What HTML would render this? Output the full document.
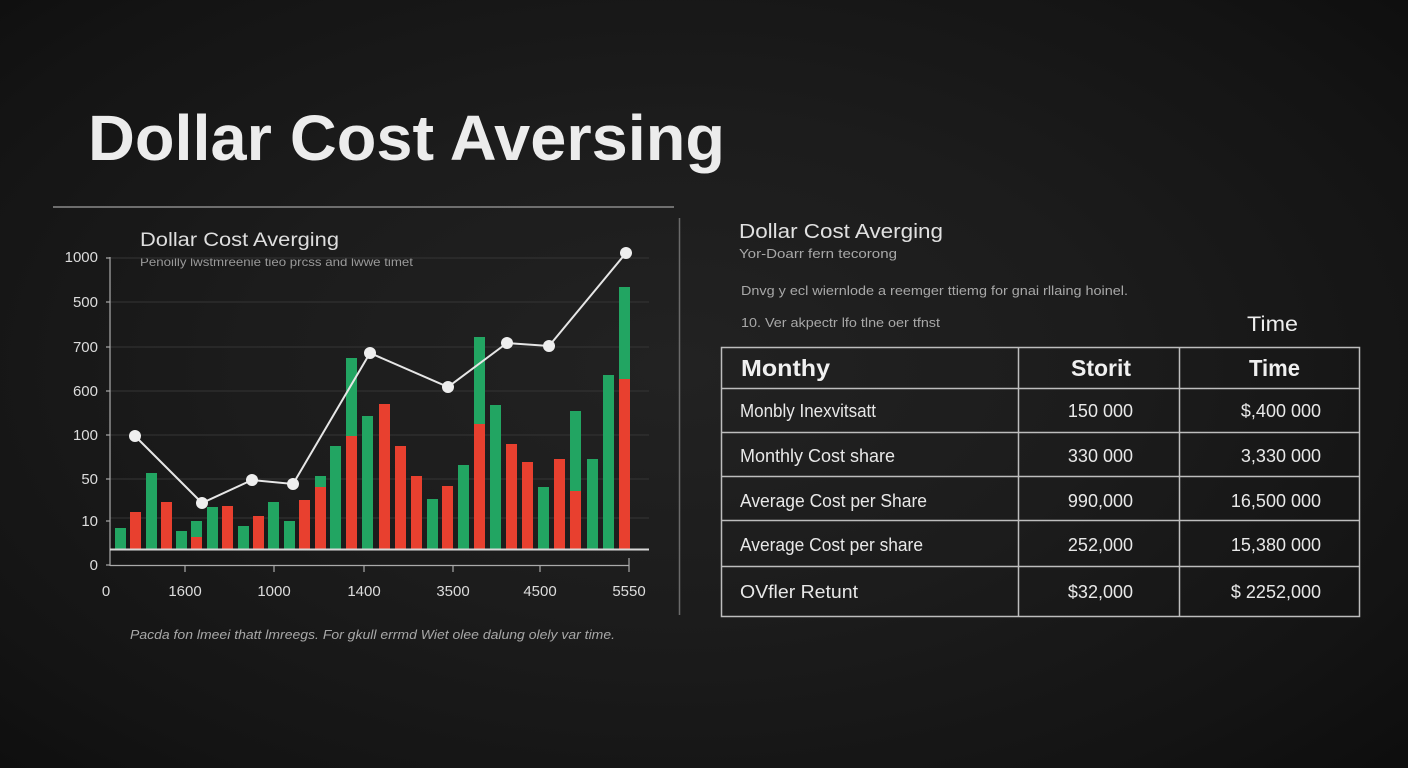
<!DOCTYPE html>
<html><head><meta charset="utf-8"><style>
html,body{margin:0;padding:0;width:1408px;height:768px;overflow:hidden;}
body{background:radial-gradient(ellipse 75% 80% at 48% 48%,#222 0%,#1c1c1c 40%,#141414 75%,#0c0c0c 100%);}
svg{position:absolute;left:0;top:0;}
text{font-family:"Liberation Sans",sans-serif;}
</style></head><body>
<svg width="1408" height="768" viewBox="0 0 1408 768" xmlns="http://www.w3.org/2000/svg">
<!-- Big title -->
<text x="88" y="160" font-size="64" font-weight="bold" fill="#ececec" textLength="637" lengthAdjust="spacingAndGlyphs">Dollar Cost Aversing</text>
<!-- dividers -->
<line x1="53" y1="207" x2="674" y2="207" stroke="#8a8a8a" stroke-width="1.5"/>
<line x1="679.5" y1="218" x2="679.5" y2="615" stroke="#6a6a6a" stroke-width="1.5"/>

<!-- chart titles -->
<text x="140" y="246" font-size="19" fill="#dedede" textLength="199" lengthAdjust="spacingAndGlyphs">Dollar Cost Averging</text>
<text x="140" y="266" font-size="12" fill="#9a9a9a" textLength="273" lengthAdjust="spacingAndGlyphs">Penoilly lwstmreenie tieo prcss and lwwe timet</text>

<!-- gridlines -->
<g stroke="#353535" stroke-width="1">
<line x1="110" y1="258" x2="649" y2="258"/>
<line x1="110" y1="302" x2="649" y2="302"/>
<line x1="110" y1="347" x2="649" y2="347"/>
<line x1="110" y1="391" x2="649" y2="391"/>
<line x1="110" y1="435" x2="649" y2="435"/>
<line x1="110" y1="479" x2="649" y2="479"/>
<line x1="110" y1="518" x2="649" y2="518"/>
</g>
<!-- y axis -->
<line x1="110" y1="257" x2="110" y2="566" stroke="#aaa" stroke-width="1.2"/>
<g stroke="#aaa" stroke-width="1.2">
<line x1="106" y1="258" x2="110" y2="258"/><line x1="106" y1="302" x2="110" y2="302"/>
<line x1="106" y1="347" x2="110" y2="347"/><line x1="106" y1="391" x2="110" y2="391"/>
<line x1="106" y1="435" x2="110" y2="435"/><line x1="106" y1="479" x2="110" y2="479"/>
<line x1="106" y1="521" x2="110" y2="521"/><line x1="106" y1="565" x2="110" y2="565"/>
</g>
<g font-size="15" fill="#dcdcdc" text-anchor="end">
<text x="98" y="262">1000</text>
<text x="98" y="307">500</text>
<text x="98" y="352">700</text>
<text x="98" y="396">600</text>
<text x="98" y="440">100</text>
<text x="98" y="484">50</text>
<text x="98" y="526">10</text>
<text x="98" y="570">0</text>
</g>

<!-- bars -->
<g>
<rect x="115" y="528" width="11" height="21" fill="#22a562"/>
<rect x="130" y="512" width="11" height="37" fill="#e8402f"/>
<rect x="146" y="473" width="11" height="76" fill="#22a562"/>
<rect x="161" y="502" width="11" height="47" fill="#e8402f"/>
<rect x="176" y="531" width="11" height="18" fill="#22a562"/>
<rect x="191" y="521" width="11" height="28" fill="#22a562"/><rect x="191" y="537" width="11" height="12" fill="#e8402f"/>
<rect x="207" y="507" width="11" height="42" fill="#22a562"/>
<rect x="222" y="506" width="11" height="43" fill="#e8402f"/>
<rect x="238" y="526" width="11" height="23" fill="#22a562"/>
<rect x="253" y="516" width="11" height="33" fill="#e8402f"/>
<rect x="268" y="502" width="11" height="47" fill="#22a562"/>
<rect x="284" y="521" width="11" height="28" fill="#22a562"/>
<rect x="299" y="500" width="11" height="49" fill="#e8402f"/>
<rect x="315" y="476" width="11" height="73" fill="#22a562"/><rect x="315" y="487" width="11" height="62" fill="#e8402f"/>
<rect x="330" y="446" width="11" height="103" fill="#22a562"/>
<rect x="346" y="358" width="11" height="191" fill="#22a562"/><rect x="346" y="436" width="11" height="113" fill="#e8402f"/>
<rect x="362" y="416" width="11" height="133" fill="#22a562"/>
<rect x="379" y="404" width="11" height="145" fill="#e8402f"/>
<rect x="395" y="446" width="11" height="103" fill="#e8402f"/>
<rect x="411" y="476" width="11" height="73" fill="#e8402f"/>
<rect x="427" y="499" width="11" height="50" fill="#22a562"/>
<rect x="442" y="486" width="11" height="63" fill="#e8402f"/>
<rect x="458" y="465" width="11" height="84" fill="#22a562"/>
<rect x="474" y="337" width="11" height="212" fill="#22a562"/><rect x="474" y="424" width="11" height="125" fill="#e8402f"/>
<rect x="490" y="405" width="11" height="144" fill="#22a562"/>
<rect x="506" y="444" width="11" height="105" fill="#e8402f"/>
<rect x="522" y="462" width="11" height="87" fill="#e8402f"/>
<rect x="538" y="487" width="11" height="62" fill="#22a562"/>
<rect x="554" y="459" width="11" height="90" fill="#e8402f"/>
<rect x="570" y="411" width="11" height="138" fill="#22a562"/><rect x="570" y="491" width="11" height="58" fill="#e8402f"/>
<rect x="587" y="459" width="11" height="90" fill="#22a562"/>
<rect x="603" y="375" width="11" height="174" fill="#22a562"/>
<rect x="619" y="287" width="11" height="262" fill="#22a562"/><rect x="619" y="379" width="11" height="170" fill="#e8402f"/>
</g>
<!-- baseline -->
<line x1="110" y1="549.5" x2="649" y2="549.5" stroke="#d8d8d8" stroke-width="2"/>
<!-- lower x axis -->
<line x1="110" y1="565.5" x2="629" y2="565.5" stroke="#aaa" stroke-width="1.2"/>
<g stroke="#aaa" stroke-width="1.2">
<line x1="185" y1="565" x2="185" y2="572"/><line x1="274" y1="565" x2="274" y2="572"/>
<line x1="364" y1="565" x2="364" y2="572"/><line x1="453" y1="565" x2="453" y2="572"/>
<line x1="540" y1="565" x2="540" y2="572"/><line x1="629" y1="558" x2="629" y2="572"/>
</g>
<g font-size="15" fill="#dcdcdc" text-anchor="middle">
<text x="106" y="596">0</text>
<text x="185" y="596">1600</text>
<text x="274" y="596">1000</text>
<text x="364" y="596">1400</text>
<text x="453" y="596">3500</text>
<text x="540" y="596">4500</text>
<text x="629" y="596">5550</text>
</g>

<!-- line series -->
<polyline points="135,436 202,503 252,480 293,484 370,353 448,387 507,343 549,346 626,253" fill="none" stroke="#e6e6e6" stroke-width="2"/>
<g fill="#eeeeee">
<circle cx="135" cy="436" r="6"/><circle cx="202" cy="503" r="6"/><circle cx="252" cy="480" r="6"/>
<circle cx="293" cy="484" r="6"/><circle cx="370" cy="353" r="6"/><circle cx="448" cy="387" r="6"/>
<circle cx="507" cy="343" r="6"/><circle cx="549" cy="346" r="6"/><circle cx="626" cy="253" r="6"/>
</g>

<!-- caption -->
<text x="130" y="639" font-size="13" font-style="italic" fill="#a8a8a8" textLength="485" lengthAdjust="spacingAndGlyphs">Pacda fon lmeei thatt lmreegs. For gkull errmd Wiet olee dalung olely var time.</text>

<!-- right side text -->
<text x="739" y="238" font-size="20" fill="#e0e0e0" textLength="204" lengthAdjust="spacingAndGlyphs">Dollar Cost Averging</text>
<text x="739" y="258" font-size="13" fill="#a8a8a8" textLength="158" lengthAdjust="spacingAndGlyphs">Yor-Doarr  fern  tecorong</text>
<text x="741" y="295" font-size="13" fill="#a8a8a8" textLength="387" lengthAdjust="spacingAndGlyphs">Dnvg y ecl wiernlode a reemger ttiemg for gnai rllaing hoinel.</text>
<text x="741" y="327" font-size="13" fill="#a8a8a8" textLength="199" lengthAdjust="spacingAndGlyphs">10. Ver akpectr lfo tlne oer tfnst</text>
<text x="1247" y="331" font-size="21" fill="#eeeeee" textLength="51" lengthAdjust="spacingAndGlyphs">Time</text>

<!-- table -->
<rect x="721.5" y="347.5" width="638" height="269" fill="none" stroke="#bdbdbd" stroke-width="1.5"/>
<g stroke="#bdbdbd" stroke-width="1.5">
<line x1="1018.5" y1="347" x2="1018.5" y2="617"/>
<line x1="1179.5" y1="347" x2="1179.5" y2="617"/>
<line x1="721" y1="388.5" x2="1360" y2="388.5"/>
<line x1="721" y1="432.5" x2="1360" y2="432.5"/>
<line x1="721" y1="476.5" x2="1360" y2="476.5"/>
<line x1="721" y1="520.5" x2="1360" y2="520.5"/>
<line x1="721" y1="566.5" x2="1360" y2="566.5"/>
</g>
<g font-size="23" font-weight="bold" fill="#f0f0f0">
<text x="741" y="376" textLength="89" lengthAdjust="spacingAndGlyphs">Monthy</text>
<text x="1071" y="376" textLength="60" lengthAdjust="spacingAndGlyphs">Storit</text>
<text x="1249" y="376" textLength="51" lengthAdjust="spacingAndGlyphs">Time</text>
</g>
<g font-size="18" fill="#e8e8e8">
<text x="740" y="417" textLength="136" lengthAdjust="spacingAndGlyphs">Monbly Inexvitsatt</text>
<text x="740" y="462" textLength="155" lengthAdjust="spacingAndGlyphs">Monthly Cost share</text>
<text x="740" y="507" textLength="187" lengthAdjust="spacingAndGlyphs">Average Cost per Share</text>
<text x="740" y="551" textLength="183" lengthAdjust="spacingAndGlyphs">Average Cost per share</text>
<text x="740" y="598" textLength="118" lengthAdjust="spacingAndGlyphs">OVfler Retunt</text>
</g>
<g font-size="18" fill="#e8e8e8" text-anchor="end">
<text x="1133" y="417">150 000</text>
<text x="1133" y="462">330 000</text>
<text x="1133" y="507">990,000</text>
<text x="1133" y="551">252,000</text>
<text x="1133" y="598">$32,000</text>
<text x="1321" y="417">$,400 000</text>
<text x="1321" y="462">3,330 000</text>
<text x="1321" y="507">16,500 000</text>
<text x="1321" y="551">15,380 000</text>
<text x="1321" y="598">$ 2252,000</text>
</g>
</svg>
</body></html>
